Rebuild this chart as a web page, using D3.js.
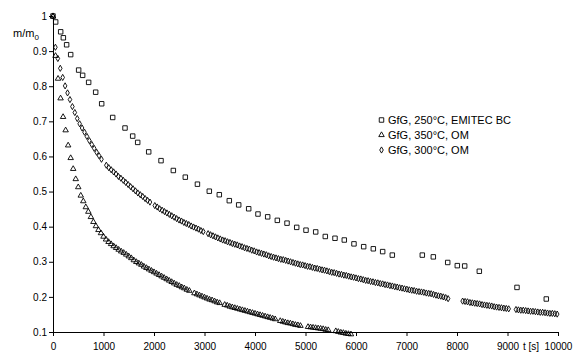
<!DOCTYPE html>
<html>
<head>
<meta charset="utf-8">
<script src="https://cdn.jsdelivr.net/npm/d3@7"></script>
<style>
  html, body { margin: 0; padding: 0; background: #fff; }
  svg { display: block; font-family: "Liberation Sans", Arial, sans-serif; }
</style>
</head>
<body>
<div id="chart"></div>
<script>
// GfG, 250°C, EMITEC BC (squares) - irregular sampling
const squareT = [0, 53, 152, 205, 270, 350, 508, 587, 706, 845, 964, 1182, 1426, 1578, 1677, 1895,
  2139, 2383, 2620, 2860, 3095, 3293, 3491, 3677, 3875, 4059, 4251, 4442, 4634, 4826, 5010, 5202,
  5392, 5584, 5768, 5960, 6152, 6343, 6528, 6719, 7313, 7531, 7816, 8006, 8152, 8442, 9188, 9768];
const squareV = [1.000, 0.983, 0.955, 0.938, 0.918, 0.890, 0.846, 0.831, 0.811, 0.783, 0.750, 0.711, 0.681, 0.658, 0.640, 0.613,
  0.588, 0.560, 0.541, 0.521, 0.501, 0.491, 0.474, 0.462, 0.451, 0.436, 0.428, 0.418, 0.410, 0.398, 0.390, 0.385,
  0.372, 0.367, 0.362, 0.351, 0.343, 0.337, 0.329, 0.319, 0.319, 0.314, 0.298, 0.289, 0.288, 0.273, 0.227, 0.194];

// GfG, 300°C, OM (diamonds) - logged every 48 s, null = missing sample
const diamondStep = 48;
const diamondV = [
  1.000, 0.911, 0.879, 0.851, 0.825, 0.801, 0.781, 0.762, 0.742, 0.725,
  0.708, 0.693, 0.681, 0.669, 0.657, 0.645, 0.634, 0.623, 0.612, 0.602,
  0.592, null, 0.575, 0.568, 0.562, 0.556, 0.550, 0.543, 0.538, 0.532,
  0.526, 0.520, 0.514, 0.508, 0.502, 0.496, 0.491, 0.486, 0.480, 0.475,
  0.470, null, 0.460, 0.456, 0.451, 0.447, 0.443, 0.439, 0.435, 0.431,
  0.427, 0.423, 0.419, 0.416, 0.412, 0.409, 0.406, 0.402, 0.399, 0.396,
  0.393, 0.389, 0.386, null, 0.380, 0.377, 0.374, 0.371, 0.368, 0.365,
  0.362, 0.360, 0.357, 0.355, 0.352, 0.350, 0.348, 0.345, 0.343, 0.340,
  0.338, 0.336, 0.333, 0.331, 0.328, 0.326, 0.324, 0.322, 0.320, 0.317,
  0.315, 0.313, 0.311, 0.309, 0.307, 0.306, 0.304, 0.302, 0.300, 0.298,
  0.296, 0.294, 0.292, 0.291, 0.289, 0.287, 0.286, 0.284, 0.282, 0.281,
  0.279, 0.277, 0.276, 0.274, 0.272, 0.270, 0.269, 0.267, 0.265, 0.264,
  0.262, 0.261, 0.259, 0.257, 0.256, 0.254, 0.252, 0.251, 0.249, 0.247,
  0.246, 0.244, 0.243, 0.241, 0.240, 0.238, 0.237, 0.235, 0.234, 0.232,
  0.231, 0.229, 0.228, 0.226, 0.225, 0.223, 0.222, 0.220, 0.219, 0.218,
  0.216, 0.215, 0.214, 0.213, 0.211, 0.210, 0.209, 0.207, 0.205, 0.203,
  0.202, 0.200, 0.198, 0.195, null, null, null, null, null, 0.188,
  0.187, 0.186, 0.184, 0.183, 0.182, 0.181, 0.180, 0.178, 0.177, 0.176,
  0.175, 0.174, 0.172, 0.171, 0.170, 0.169, 0.168, 0.167, 0.166, null,
  null, 0.164, 0.163, 0.162, 0.162, 0.161, 0.160, 0.159, 0.159, 0.158,
  0.157, 0.156, 0.156, 0.155, 0.154, 0.153, 0.153, 0.152, 0.151
];

// GfG, 350°C, OM (triangles) - logged every 50 s, null = missing sample
const triangleStep = 50;
const triangleV = [
  1.000, 0.888, 0.823, 0.767, 0.714, 0.676, 0.633, 0.597, 0.566, 0.537,
  0.514, 0.490, 0.474, 0.457, 0.444, 0.429, 0.415, 0.403, 0.392, 0.383,
  0.373, 0.365, 0.358, 0.352, 0.346, 0.341, 0.336, 0.331, 0.327, 0.322,
  0.317, 0.312, 0.306, 0.301, 0.297, 0.293, 0.288, 0.284, 0.280, 0.276,
  0.272, 0.268, 0.264, 0.260, 0.256, 0.252, 0.248, 0.244, 0.240, 0.236,
  0.233, 0.229, 0.226, 0.222, 0.219, null, 0.212, 0.209, 0.206, 0.203,
  0.200, 0.197, 0.194, 0.192, 0.189, 0.186, 0.184, null, 0.179, 0.177,
  0.174, 0.172, 0.170, 0.168, 0.166, 0.164, 0.162, 0.160, 0.158, 0.156,
  0.154, 0.152, 0.150, 0.148, 0.146, 0.144, 0.142, 0.140, 0.138, null,
  0.133, 0.131, 0.129, 0.127, 0.126, 0.124, 0.122, 0.121, 0.119, null,
  null, 0.116, 0.115, 0.114, 0.113, 0.112, 0.111, 0.110, 0.108, 0.107,
  null, null, 0.104, 0.102, 0.100, 0.099, 0.097, 0.096, 0.095
];

const xTicks = [0, 1000, 2000, 3000, 4000, 5000, 6000, 7000, 8000, 9000, 10000];
const xTickLabels = ['0', '1000', '2000', '3000', '4000', '5000', '6000', '7000', '8000', '9000', '10000'];
const yTicks = [0.1, 0.2, 0.3, 0.4, 0.5, 0.6, 0.7, 0.8, 0.9, 1];
const yTickLabels = ['0.1', '0.2', '0.3', '0.4', '0.5', '0.6', '0.7', '0.8', '0.9', '1'];
const legendLabels = ['GfG, 250°C, EMITEC BC', 'GfG, 350°C, OM', 'GfG, 300°C, OM'];

const width = 581, height = 353;

const svg = d3.select('#chart').append('svg')
  .attr('width', width)
  .attr('height', height);

svg.append('rect').attr('width', width).attr('height', height).attr('fill', '#fff');

const x = d3.scaleLinear().domain([0, 10000]).range([53, 558]);
const y = d3.scaleLinear().domain([0.1, 1]).range([332, 16]);

// Axes
const xAxis = svg.append('g')
  .attr('transform', `translate(0,${y(0.1)})`)
  .call(d3.axisBottom(x).tickValues(xTicks).tickSize(4).tickSizeOuter(0).tickPadding(7)
    .tickFormat((d, i) => xTickLabels[i]));

const yAxis = svg.append('g')
  .attr('transform', `translate(${x(0)},0)`)
  .call(d3.axisLeft(y).tickValues(yTicks).tickSize(4).tickSizeOuter(0).tickPadding(2)
    .tickFormat((d, i) => yTickLabels[i]));

[xAxis, yAxis].forEach(a => {
  a.select('.domain').attr('stroke', '#000').attr('stroke-width', 1);
  a.selectAll('.tick line').attr('stroke', '#000');
  a.selectAll('.tick text').attr('fill', '#000').attr('font-size', 10)
    .attr('font-family', '"Liberation Sans", Arial, sans-serif');
});

// Axis titles
const yTitle = svg.append('text')
  .attr('x', 13).attr('y', 37)
  .attr('font-size', 11).attr('fill', '#000');
yTitle.append('tspan').text('m/m');
yTitle.append('tspan').attr('font-size', 8).attr('dy', 3).text('0');

svg.append('text')
  .attr('x', 523).attr('y', 350)
  .attr('font-size', 10).attr('fill', '#000')
  .text('t [s]');

// Series
const symSquare = d3.symbol().type(d3.symbolSquare).size(20)();
const symTriangle = d3.symbol().type(d3.symbolTriangle).size(13)();
const symDiamond = d3.symbol().type(d3.symbolDiamond).size(11)();

const squares = squareT.map((t, i) => ({ t, v: squareV[i] }));
const diamonds = diamondV.map((v, i) => ({ t: i * diamondStep, v })).filter(d => d.v !== null);
const triangles = triangleV.map((v, i) => ({ t: i * triangleStep, v })).filter(d => d.v !== null);

const series = [
  { data: triangles, path: symTriangle, dy: 0.5 },
  { data: diamonds, path: symDiamond, dy: 0 },
  { data: squares, path: symSquare, dy: 0 }
];

series.forEach(s => {
  svg.append('g')
    .selectAll('path')
    .data(s.data)
    .join('path')
    .attr('d', s.path)
    .attr('transform', d => `translate(${x(d.t)},${y(d.v) + s.dy})`)
    .attr('fill', 'none')
    .attr('stroke', '#000')
    .attr('stroke-width', 0.9);
});

// Legend
const legendSyms = [symSquare, symTriangle, symDiamond];
const legend = svg.append('g');
legendLabels.forEach((label, i) => {
  const ly = 120 + i * 15;
  legend.append('path')
    .attr('d', legendSyms[i])
    .attr('transform', `translate(381.5,${ly})`)
    .attr('fill', 'none')
    .attr('stroke', '#000')
    .attr('stroke-width', 0.9);
  legend.append('text')
    .attr('x', 388).attr('y', ly)
    .attr('dy', '0.35em')
    .attr('font-size', 11)
    .attr('fill', '#000')
    .text(label);
});
</script>
</body>
</html>
